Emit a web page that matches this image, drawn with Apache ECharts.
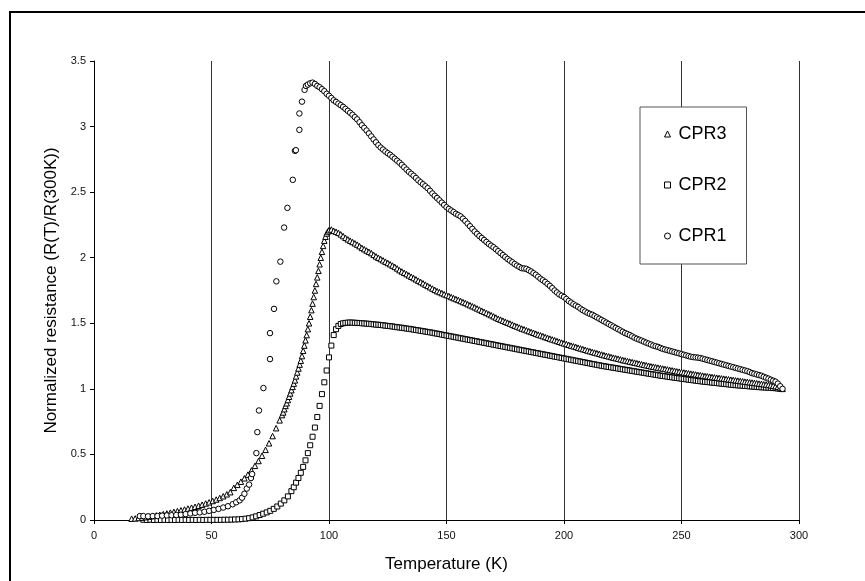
<!DOCTYPE html>
<html>
<head>
<meta charset="utf-8">
<script src="https://cdn.jsdelivr.net/npm/echarts@6/dist/echarts.min.js"></script>
<style>
html,body{margin:0;padding:0;background:#fff;overflow:hidden;}
#chart{width:865px;height:581px;}
</style>
</head>
<body>
<div id="chart"></div>
<script>
// Tick labels / axis ranges
var xTicks = [0, 50, 100, 150, 200, 250, 300];
var yTicks = [0, 0.5, 1, 1.5, 2, 2.5, 3, 3.5];
var legendNames = ['CPR3', 'CPR2', 'CPR1'];

// CPR1 (circles): [Temperature K, R(T)/R(300K)]
var cpr1 = [
[19.5,0.03],[21,0.03],[23,0.028],[25,0.03],[27,0.03],[29,0.033],[31,0.035],[33,0.036],[35,0.038],[37,0.04],
[39,0.045],[41,0.05],[43,0.055],[45,0.058],[47,0.063],[49,0.07],[51,0.077],[53,0.085],[55,0.095],[57,0.105],
[59,0.12],[60.5,0.135],[62,0.15],[63,0.17],[64,0.2],[65,0.24],[66,0.27],[66.8,0.32],[67.3,0.35],
[69.1,0.51],[69.5,0.67],[70.2,0.835],[72.1,1.006],[74.9,1.227],[74.9,1.425],[76.6,1.61],[77.6,1.82],[79.3,1.97],
[80.9,2.23],[82.3,2.38],[84.6,2.594],[85.5,2.815],[85.9,2.82],[87.4,2.975],[87.4,3.10],[88.5,3.19],[89.6,3.28],
[90.2,3.31],[91,3.32],[92,3.33],[93,3.335],[94,3.325],[95,3.31],[96,3.3],[97,3.285],[98,3.27],[99,3.25],
[100,3.235],[101,3.218],[102,3.2],[103,3.188],[104,3.175],[105,3.163],[106,3.15],[107,3.135],[108,3.12],[109,3.105],
[110,3.09],[111,3.072],[112,3.055],[113,3.033],[114,3.01],[115,2.99],[116,2.97],[117,2.948],[118,2.925],[119,2.902],
[120,2.88],[121,2.858],[122,2.84],[123,2.825],[124,2.81],[125,2.797],[126,2.785],[127,2.77],[128,2.755],[129,2.74],
[130,2.725],[131,2.708],[132,2.69],[133,2.672],[134,2.655],[135,2.64],[136,2.625],[137,2.608],[138,2.59],[139,2.575],
[140,2.56],[141,2.545],[142,2.53],[143,2.51],[144,2.49],[145,2.472],[146,2.455],[147,2.438],[148,2.42],[149,2.402],
[150,2.385],[151,2.372],[152,2.36],[153,2.348],[154,2.335],[155,2.325],[156,2.315],[157,2.298],[158,2.28],[159,2.26],
[160,2.24],[161,2.22],[162,2.2],[163,2.182],[164,2.165],[165,2.15],[166,2.135],[167,2.12],[168,2.105],[169,2.092],
[170,2.08],[171,2.065],[172,2.05],[173,2.035],[174,2.02],[175,2.005],[176,1.99],[177,1.978],[178,1.965],[179,1.952],
[180,1.94],[181,1.93],[182,1.92],[183,1.918],[184,1.915],[185,1.905],[186,1.895],[187,1.882],[188,1.87],[189,1.855],
[190,1.84],[191,1.828],[192,1.815],[193,1.8],[194,1.785],[195,1.768],[196,1.75],[197,1.735],[198,1.72],[199,1.71],
[200,1.7],[201,1.685],[202,1.67],[203,1.658],[204,1.645],[205,1.635],[206,1.625],[207,1.612],[208,1.6],[209,1.59],
[210,1.58],[211,1.572],[212,1.565],[213,1.555],[214,1.545],[215,1.535],[216,1.525],[217,1.515],[218,1.505],[219,1.495],
[220,1.485],[221,1.475],[222,1.465],[223,1.455],[224,1.445],[225,1.435],[226,1.425],[227,1.418],[228,1.41],[229,1.4],
[230,1.39],[231,1.382],[232,1.375],[233,1.368],[234,1.36],[235,1.352],[236,1.345],[237,1.338],[238,1.33],[239,1.325],
[240,1.32],[241,1.312],[242,1.305],[243,1.3],[244,1.295],[245,1.29],[246,1.285],[247,1.28],[248,1.275],[249,1.27],
[250,1.265],[251,1.26],[252,1.255],[253,1.25],[254,1.245],[255,1.242],[256,1.24],[257,1.238],[258,1.235],[259,1.23],
[260,1.225],[261,1.22],[262,1.215],[263,1.21],[264,1.205],[265,1.2],[266,1.195],[267,1.19],[268,1.185],[269,1.18],
[270,1.175],[271,1.17],[272,1.165],[273,1.16],[274,1.155],[275,1.15],[276,1.145],[277,1.14],[278,1.135],[279,1.128],
[280,1.12],[281,1.115],[282,1.11],[283,1.105],[284,1.1],[285,1.092],[286,1.085],[287,1.078],[288,1.07],[289,1.062],
[290,1.055],[291,1.04],[292,1.02],[293,1.0]
];

// CPR2 (squares)
var cpr2 = [
[21,0.002],[22.5,0],[24,0.002],[25.5,0],[27,0.001],[28.5,0],[30,0.001],[31.5,0],[33,0.001],[34.5,0],
[36,0.001],[37.5,0],[39,0.001],[40.5,0],[42,0.001],[43.5,0],[45,0.001],[46.5,0],[48,0.001],[49.5,0.001],
[51,0.001],[52.5,0.001],[54,0.001],[55.5,0.002],[57,0.002],[58.5,0.003],[60,0.004],[61.5,0.005],[63,0.007],[64.5,0.01],
[66,0.014],[67.5,0.02],[69,0.028],[70.5,0.038],[72,0.048],[73.5,0.058],[75,0.07],[76.5,0.085],[78,0.103],[79.5,0.125],
[81,0.15],[82.5,0.18],[84,0.22],[85,0.25],[86,0.285],[87,0.32],[88,0.36],[89,0.405],[90,0.455],[91,0.51],
[92,0.57],[93,0.635],[94,0.705],[95,0.785],[96,0.87],[97,0.96],[98,1.05],[99,1.14],[100,1.24],[101,1.33],
[102,1.41],[103,1.455],[104,1.48],[105,1.495],[106,1.5],[107,1.503],[108,1.505],[109,1.506],[110,1.505],[111,1.504],
[112,1.503],[113,1.502],[114,1.5],[115,1.499],[116,1.497],[117,1.496],[118,1.494],[119,1.492],[120,1.49],[121,1.489],
[122,1.487],[123,1.485],[124,1.482],[125,1.48],[126,1.478],[127,1.476],[128,1.473],[129,1.47],[130,1.468],[131,1.466],
[132,1.463],[133,1.46],[134,1.458],[135,1.455],[136,1.452],[137,1.449],[138,1.446],[139,1.443],[140,1.44],[141,1.437],
[142,1.434],[143,1.431],[144,1.428],[145,1.424],[146,1.421],[147,1.418],[148,1.414],[149,1.41],[150,1.407],[151,1.404],
[152,1.4],[153,1.397],[154,1.393],[155,1.39],[156,1.386],[157,1.383],[158,1.379],[159,1.376],[160,1.372],[161,1.369],
[162,1.365],[163,1.362],[164,1.358],[165,1.355],[166,1.351],[167,1.348],[168,1.344],[169,1.341],[170,1.337],[171,1.334],
[172,1.33],[173,1.327],[174,1.323],[175,1.32],[176,1.316],[177,1.313],[178,1.309],[179,1.306],[180,1.302],[181,1.299],
[182,1.295],[183,1.292],[184,1.288],[185,1.285],[186,1.281],[187,1.278],[188,1.274],[189,1.271],[190,1.267],[191,1.264],
[192,1.26],[193,1.257],[194,1.253],[195,1.25],[196,1.246],[197,1.243],[198,1.239],[199,1.236],[200,1.232],[201,1.229],
[202,1.225],[203,1.222],[204,1.218],[205,1.215],[206,1.211],[207,1.208],[208,1.204],[209,1.201],[210,1.197],[211,1.194],
[212,1.19],[213,1.187],[214,1.183],[215,1.18],[216,1.176],[217,1.173],[218,1.17],[219,1.167],[220,1.164],[221,1.161],
[222,1.158],[223,1.155],[224,1.152],[225,1.149],[226,1.146],[227,1.143],[228,1.14],[229,1.137],[230,1.134],[231,1.131],
[232,1.128],[233,1.125],[234,1.122],[235,1.119],[236,1.116],[237,1.113],[238,1.11],[239,1.107],[240,1.104],[241,1.101],
[242,1.098],[243,1.096],[244,1.093],[245,1.09],[246,1.088],[247,1.085],[248,1.083],[249,1.08],[250,1.078],[251,1.075],
[252,1.073],[253,1.07],[254,1.068],[255,1.065],[256,1.063],[257,1.06],[258,1.058],[259,1.056],[260,1.054],[261,1.052],
[262,1.05],[263,1.048],[264,1.046],[265,1.044],[266,1.042],[267,1.04],[268,1.038],[269,1.036],[270,1.034],[271,1.032],
[272,1.03],[273,1.028],[274,1.027],[275,1.025],[276,1.024],[277,1.022],[278,1.021],[279,1.019],[280,1.018],[281,1.016],
[282,1.015],[283,1.013],[284,1.012],[285,1.011],[286,1.01],[287,1.009],[288,1.008],[289,1.006],[290,1.005],[291,1.003],
[292,1.0]
];

// CPR3 (triangles)
var cpr3 = [
[16,0.01],[17.5,0.012],[19,0.015],[20.5,0.018],[22,0.022],[23.5,0.026],[25,0.03],[26.5,0.035],[28,0.04],[29.5,0.045],
[31,0.05],[32.5,0.056],[34,0.062],[35.5,0.068],[37,0.074],[38.5,0.08],[40,0.087],[41.5,0.094],[43,0.101],[44.5,0.109],
[46,0.117],[47.5,0.126],[49,0.135],[50.5,0.145],[52,0.156],[53.5,0.168],[55,0.181],[56.5,0.196],[58,0.212],[59.5,0.245],
[61,0.268],[62.5,0.292],[64,0.318],[65.5,0.346],[67,0.378],[68.5,0.413],[70,0.45],[71.5,0.49],[73,0.535],[74.5,0.585],
[76,0.64],[77.5,0.7],[79,0.76],[80,0.8],[80.5,0.82],[81,0.845],[81.5,0.87],[82,0.89],[82.5,0.915],[83,0.94],
[83.5,0.965],[84,0.99],[84.5,1.015],[85,1.04],[85.5,1.065],[86,1.095],[86.5,1.125],[87,1.155],[87.5,1.185],[88,1.215],
[88.5,1.25],[89,1.29],[89.5,1.33],[90,1.37],[90.5,1.41],[91,1.455],[91.5,1.5],[92,1.55],[92.5,1.6],[93,1.65],
[93.5,1.7],[94,1.75],[94.5,1.8],[95,1.85],[95.5,1.9],[96,1.95],[96.5,2.0],[97,2.045],[97.5,2.09],[98,2.13],
[98.5,2.16],[99,2.185],[99.5,2.2],[100,2.21],[101,2.215],[102,2.205],[103,2.198],[104,2.19],[105,2.178],[106,2.165],
[107,2.152],[108,2.14],[109,2.13],[110,2.12],[111,2.11],[112,2.1],[113,2.088],[114,2.075],[115,2.065],[116,2.055],
[117,2.045],[118,2.035],[119,2.022],[120,2.01],[121,2.0],[122,1.99],[123,1.98],[124,1.97],[125,1.96],[126,1.95],
[127,1.94],[128,1.93],[129,1.918],[130,1.905],[131,1.895],[132,1.885],[133,1.875],[134,1.865],[135,1.855],[136,1.845],
[137,1.835],[138,1.825],[139,1.815],[140,1.805],[141,1.795],[142,1.785],[143,1.775],[144,1.765],[145,1.755],[146,1.745],
[147,1.738],[148,1.73],[149,1.722],[150,1.715],[151,1.708],[152,1.7],[153,1.692],[154,1.685],[155,1.678],[156,1.67],
[157,1.662],[158,1.655],[159,1.646],[160,1.638],[161,1.63],[162,1.622],[163,1.613],[164,1.605],[165,1.596],[166,1.588],
[167,1.579],[168,1.57],[169,1.562],[170,1.553],[171,1.544],[172,1.535],[173,1.528],[174,1.52],[175,1.512],[176,1.505],
[177,1.498],[178,1.49],[179,1.482],[180,1.475],[181,1.468],[182,1.46],[183,1.454],[184,1.447],[185,1.44],[186,1.434],
[187,1.428],[188,1.421],[189,1.414],[190,1.408],[191,1.402],[192,1.395],[193,1.389],[194,1.383],[195,1.377],[196,1.371],
[197,1.365],[198,1.359],[199,1.353],[200,1.347],[201,1.342],[202,1.336],[203,1.33],[204,1.325],[205,1.32],[206,1.314],
[207,1.308],[208,1.303],[209,1.298],[210,1.292],[211,1.287],[212,1.282],[213,1.277],[214,1.272],[215,1.267],[216,1.262],
[217,1.257],[218,1.252],[219,1.248],[220,1.243],[221,1.238],[222,1.234],[223,1.23],[224,1.225],[225,1.22],[226,1.216],
[227,1.212],[228,1.208],[229,1.204],[230,1.2],[231,1.196],[232,1.192],[233,1.188],[234,1.184],[235,1.18],[236,1.176],
[237,1.172],[238,1.169],[239,1.165],[240,1.162],[241,1.158],[242,1.155],[243,1.152],[244,1.148],[245,1.144],[246,1.141],
[247,1.138],[248,1.134],[249,1.131],[250,1.128],[251,1.125],[252,1.122],[253,1.119],[254,1.116],[255,1.113],[256,1.11],
[257,1.107],[258,1.104],[259,1.101],[260,1.098],[261,1.096],[262,1.093],[263,1.09],[264,1.088],[265,1.085],[266,1.083],
[267,1.08],[268,1.078],[269,1.075],[270,1.073],[271,1.07],[272,1.068],[273,1.065],[274,1.063],[275,1.06],[276,1.058],
[277,1.055],[278,1.053],[279,1.05],[280,1.048],[281,1.045],[282,1.043],[283,1.04],[284,1.038],[285,1.035],[286,1.033],
[287,1.03],[288,1.027],[289,1.024],[290,1.02],[291,1.015],[292,1.01],[293,1.0]
];

var FONT = '"Liberation Sans", Arial, sans-serif';
var chart = echarts.init(document.getElementById('chart'), null, {renderer: 'canvas'});

function markerStyle() {
  return {color: '#ffffff', borderColor: '#000000', borderWidth: 1, opacity: 1};
}

chart.setOption({
  animation: false,
  backgroundColor: '#ffffff',
  textStyle: {fontFamily: FONT},
  grid: {left: 94, top: 61, width: 705, height: 459, containLabel: false},
  xAxis: {
    type: 'value',
    min: xTicks[0], max: xTicks[xTicks.length - 1], interval: 50,
    name: 'Temperature (K)', nameLocation: 'middle', nameGap: 36,
    nameTextStyle: {fontFamily: FONT, fontSize: 17, color: '#000'},
    axisLine: {show: true, lineStyle: {color: '#000', width: 1}},
    axisTick: {show: true, inside: false, length: 4, lineStyle: {color: '#000'}},
    axisLabel: {fontFamily: FONT, fontSize: 11, color: '#111', margin: 10},
    splitLine: {show: true, lineStyle: {color: '#333', width: 1}}
  },
  yAxis: {
    type: 'value',
    min: yTicks[0], max: yTicks[yTicks.length - 1], interval: 0.5,
    name: 'Normalized resistance (R(T)/R(300K))', nameLocation: 'middle', nameGap: 31,
    nameTextStyle: {fontFamily: FONT, fontSize: 17, color: '#000'},
    axisLine: {show: true, lineStyle: {color: '#000', width: 1}},
    axisTick: {show: true, inside: false, length: 4, lineStyle: {color: '#000'}},
    axisLabel: {fontFamily: FONT, fontSize: 11, color: '#111', margin: 8},
    splitLine: {show: false}
  },
  legend: {
    data: legendNames,
    orient: 'vertical',
    left: 640, top: 107,
    padding: [18, 20, 19, 24],
    itemGap: 33,
    itemWidth: 6, itemHeight: 6,
    itemStyle: {color: '#fff', borderColor: '#000', borderWidth: 1},
    backgroundColor: '#ffffff',
    borderColor: '#555',
    borderWidth: 1,
    borderRadius: 0,
    textStyle: {fontFamily: FONT, fontSize: 18, color: '#000', padding: [0, 0, 0, 3]}
  },
  graphic: [{
    type: 'rect', silent: true, z: 100,
    shape: {x: 10, y: 12, width: 900, height: 620},
    style: {fill: 'none', stroke: '#000', lineWidth: 2}
  }],
  series: [
    {name: 'CPR1', type: 'scatter', symbol: 'circle', symbolSize: 5.5, data: cpr1, itemStyle: markerStyle(), z: 3},
    {name: 'CPR2', type: 'scatter', symbol: 'rect', symbolSize: 5, data: cpr2, itemStyle: markerStyle(), z: 2},
    {name: 'CPR3', type: 'scatter', symbol: 'triangle', symbolSize: 5.5, data: cpr3, itemStyle: markerStyle(), z: 2}
  ]
});
</script>
</body>
</html>
